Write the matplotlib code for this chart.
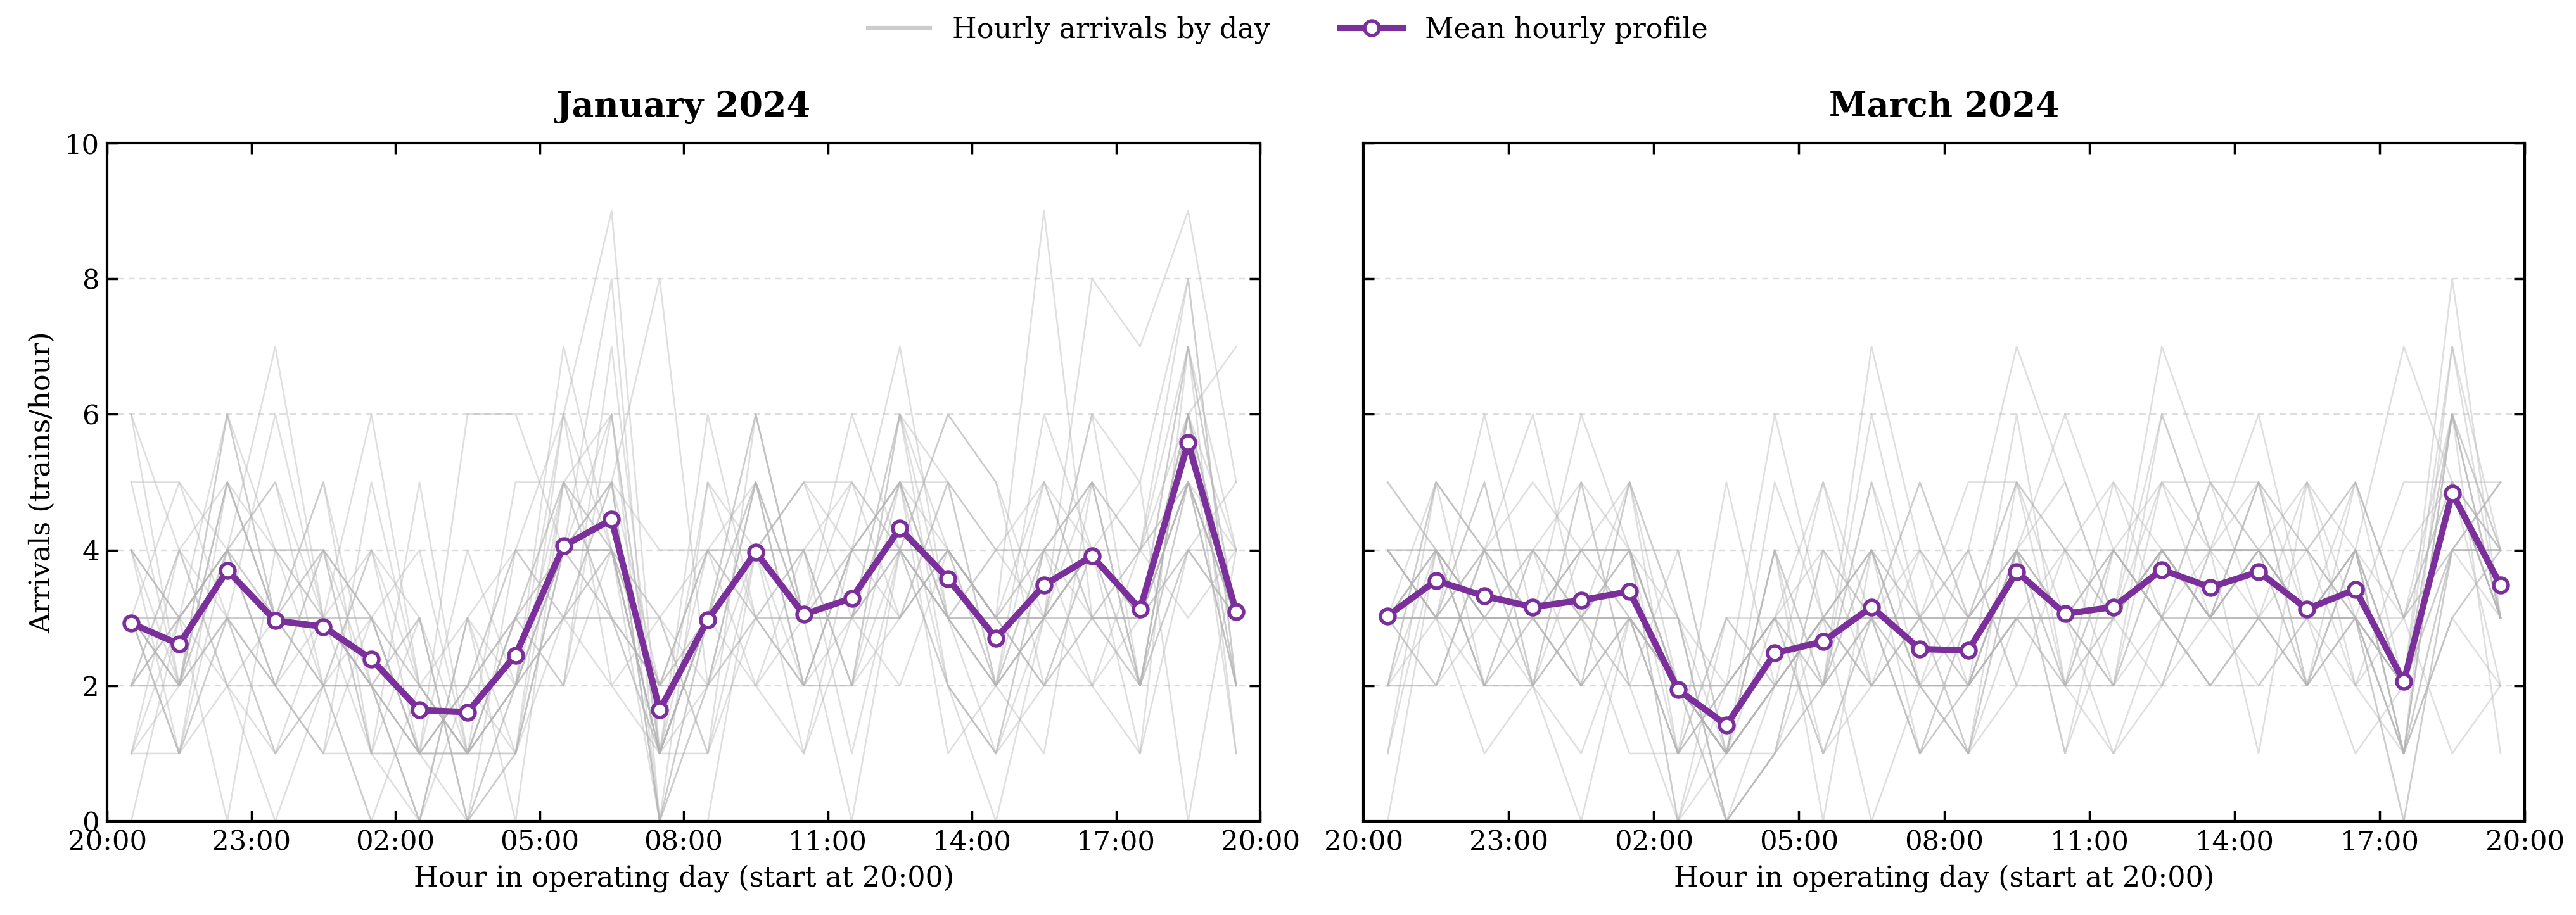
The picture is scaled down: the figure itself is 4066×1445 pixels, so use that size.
import matplotlib
matplotlib.use("Agg")
import matplotlib.pyplot as plt
from matplotlib.lines import Line2D
import numpy as np

plt.rcParams['font.family'] = ['DejaVu Serif']

# ---------------- data ----------------
hour_labels = ["20:00", "23:00", "02:00", "05:00", "08:00", "11:00", "14:00", "17:00", "20:00"]
panel_titles = ["January 2024", "March 2024"]

jan_mean = [2.92, 2.61, 3.70, 2.96, 2.87, 2.39, 1.64, 1.61, 2.45, 4.06, 4.45, 1.64,
            2.97, 3.97, 3.05, 3.29, 4.32, 3.58, 2.70, 3.48, 3.91, 3.13, 5.58, 3.09]
mar_mean = [3.03, 3.55, 3.32, 3.16, 3.26, 3.39, 1.94, 1.42, 2.48, 2.65, 3.16, 2.54,
            2.52, 3.68, 3.06, 3.16, 3.71, 3.45, 3.68, 3.13, 3.42, 2.06, 4.84, 3.48]

# daily hourly arrivals, one list per hour (31 days each)
jan_by_hour = [
    [3,2,4,6,1,3,2,5,3,0,4,2,3,3,1,4,2,3,5,2,3,4,1,3,2,6,3,2,4,3,1],
    [2,3,1,4,2,5,3,2,1,3,2,4,3,2,1,3,2,3,5,2,1,3,4,2,3,2,1,4,3,2,3],
    [4,6,3,2,5,4,3,6,4,2,5,3,4,4,3,0,5,4,3,6,2,4,5,3,4,3,5,2,4,3,4],
    [2,4,3,1,3,7,2,3,4,0,3,2,5,3,1,4,3,2,6,3,2,4,3,1,3,2,4,3,2,3,5],
    [3,2,4,2,5,3,1,3,4,2,3,2,3,5,2,4,3,1,3,2,4,3,2,3,4,1,3,2,4,3,2],
    [2,3,1,4,2,6,1,3,2,0,3,2,4,1,2,3,2,5,1,2,3,2,4,2,1,3,2,0,3,2,2],
    [1,2,0,3,1,2,5,1,0,2,1,3,2,1,0,4,1,2,1,3,2,0,1,2,3,1,2,0,1,2,1],
    [2,1,3,0,1,2,1,6,0,2,1,1,3,0,2,1,4,1,2,0,1,3,2,1,0,2,1,3,1,2,1],
    [3,2,1,4,2,3,1,6,2,3,1,2,4,2,1,3,2,5,2,1,3,2,4,3,1,2,3,0,2,4,2],
    [5,4,3,6,4,2,5,4,7,3,4,5,3,4,6,2,4,5,3,4,4,6,3,5,4,2,4,5,3,4,3],
    [4,5,3,9,4,6,3,5,4,2,8,4,5,3,4,7,4,3,5,4,6,2,4,5,3,4,5,6,3,4,4],
    [1,0,2,1,3,0,1,8,2,1,0,1,2,3,0,1,2,1,0,2,1,3,1,0,2,1,4,1,2,1,3],
    [3,2,4,3,1,5,3,2,4,3,2,6,3,1,3,4,2,3,0,4,3,2,5,3,2,3,4,1,3,2,4],
    [4,5,3,6,4,3,5,4,2,4,5,3,4,6,4,3,5,2,4,4,5,3,4,6,3,4,5,3,4,2,4],
    [3,2,4,3,5,2,3,1,4,3,2,3,4,3,5,2,3,1,3,4,2,3,4,3,2,5,3,4,2,3,3],
    [3,4,2,5,3,4,6,3,2,4,3,0,4,3,5,2,3,4,3,2,4,3,5,3,2,4,3,1,4,3,4],
    [4,5,6,3,4,7,4,5,3,4,6,4,5,2,4,5,3,4,6,4,5,3,4,4,6,3,5,4,4,3,5],
    [3,4,2,5,4,3,6,3,4,2,4,3,5,4,3,1,4,3,5,4,2,4,3,6,3,4,3,2,4,5,3],
    [2,3,1,4,2,3,5,2,3,0,3,2,4,3,1,2,3,4,2,3,1,3,2,5,3,2,4,1,3,2,3],
    [3,4,2,5,3,9,3,4,2,3,5,3,4,2,3,6,3,4,1,3,4,3,5,2,4,3,3,4,2,4,3],
    [4,5,3,4,8,3,4,5,2,4,3,6,4,3,5,4,2,4,5,3,4,6,3,4,5,3,4,2,4,3,4],
    [3,2,4,3,7,2,3,4,1,3,2,5,3,4,2,3,3,1,4,3,5,2,3,4,2,3,3,4,2,3,2],
    [6,5,7,4,9,5,6,3,7,5,6,8,4,5,6,7,5,4,6,5,0,6,7,5,4,6,5,8,6,5,4],
    [3,2,4,3,5,2,3,4,1,3,7,2,3,4,2,3,3,5,2,3,4,1,3,2,4,3,3,2,4,3,3],
]

mar_by_hour = [
    [3,4,2,3,5,2,3,4,1,3,4,2,3,3,5,2,4,3,1,3,4,2,3,4,0,3,4,2,3,4,3],
    [4,3,5,3,4,2,4,3,5,4,3,2,4,3,4,5,3,2,4,3,4,3,5,3,4,2,3,4,3,4,3],
    [3,4,2,6,3,4,2,3,4,3,1,4,3,5,2,4,3,3,4,2,3,5,4,3,2,4,3,3,4,2,4],
    [3,2,4,3,3,6,2,3,4,3,2,3,4,2,3,5,3,2,4,3,3,2,4,3,2,3,4,3,2,4,3],
    [4,3,2,4,6,3,1,4,3,2,4,3,5,3,2,4,3,0,4,3,2,5,3,4,3,2,4,3,5,3,3],
    [4,3,5,3,4,2,3,4,3,5,4,3,2,4,3,4,1,3,4,5,3,2,4,3,4,3,5,3,4,2,3],
    [2,1,3,2,0,2,1,4,2,3,1,2,2,0,3,2,1,2,3,2,1,4,2,1,2,3,1,2,2,0,2],
    [1,2,0,1,3,1,2,1,0,2,5,1,1,2,0,1,3,2,1,0,2,1,1,3,2,0,1,2,1,1,2],
    [2,3,1,4,2,3,6,2,1,3,2,4,2,3,1,2,3,2,4,1,3,2,5,2,3,2,1,3,2,4,2],
    [3,2,4,2,3,1,3,5,2,3,2,0,3,4,2,3,2,3,1,4,3,2,3,2,5,2,3,1,3,2,3],
    [3,4,2,7,3,2,4,3,6,2,3,4,0,3,5,3,2,4,3,3,2,4,3,5,2,3,4,3,2,3,4],
    [2,3,2,4,1,3,2,5,3,2,3,1,2,4,3,2,3,2,1,3,4,2,3,2,3,5,2,3,2,1,3],
    [3,2,1,3,2,4,2,3,1,2,5,3,2,3,2,1,3,4,2,3,2,1,3,2,4,3,2,3,2,3,1],
    [4,3,5,3,4,7,3,4,2,4,5,3,4,3,6,4,3,2,4,5,3,4,3,4,2,5,3,4,3,4,3],
    [3,2,4,3,2,5,3,1,4,3,2,3,6,3,2,4,3,2,3,4,3,2,3,5,2,3,4,1,3,3,2],
    [3,4,2,3,4,3,1,4,3,2,5,3,4,2,3,3,4,2,3,5,3,2,4,3,1,3,4,3,2,4,3],
    [4,3,4,7,3,4,2,5,4,3,4,6,3,4,2,4,3,5,4,3,4,2,4,5,3,4,3,4,6,3,4],
    [3,4,3,5,2,4,3,4,3,5,3,4,2,3,4,3,5,3,4,2,3,4,3,5,3,4,2,3,4,3,4],
    [4,3,5,4,2,4,3,6,4,3,5,4,3,4,1,4,5,3,4,3,4,5,2,4,3,4,3,5,4,3,4],
    [3,2,4,3,3,5,2,3,4,3,2,3,4,3,5,2,3,3,4,2,3,4,3,2,5,3,3,2,4,3,3],
    [4,3,5,3,4,2,4,3,5,3,4,1,3,4,3,5,3,4,2,3,4,3,5,3,4,3,2,4,3,4,3],
    [2,1,3,2,7,1,2,0,3,2,1,2,3,1,5,2,1,2,3,0,2,1,3,2,1,2,4,1,2,3,1],
    [5,6,4,8,5,3,6,4,5,7,4,5,6,3,5,4,6,5,1,4,5,7,4,5,6,4,5,3,6,5,4],
    [4,3,5,3,4,2,3,4,5,3,4,3,1,4,3,5,4,3,2,4,3,4,5,3,4,3,2,4,3,4,4],
]

# ---------------- styling ----------------
PURPLE = "#7B2F9B"
GRAY = "#b3b3b3"

fig = plt.figure(figsize=(16.264, 5.78), dpi=250)
ax1 = fig.add_axes([0.0416, 0.1024, 0.4476, 0.7412])
ax2 = fig.add_axes([0.5293, 0.1024, 0.4508, 0.7412], sharey=ax1)

x = np.arange(24) + 0.5

for ax, title, by_hour, mean in [(ax1, panel_titles[0], jan_by_hour, jan_mean),
                                 (ax2, panel_titles[1], mar_by_hour, mar_mean)]:
    daily = np.array(by_hour).T
    for row in daily:
        ax.plot(x, row, color=GRAY, lw=0.75, alpha=0.42, zorder=2)
    ax.plot(x, mean, color=PURPLE, lw=2.9, marker='o', ms=6.6,
            markerfacecolor='white', markeredgecolor=PURPLE, markeredgewidth=1.6, zorder=5)
    ax.set_xlim(0, 24)
    ax.set_ylim(0, 10)
    ax.set_xticks(np.arange(0, 25, 3))
    ax.set_xticklabels(hour_labels)
    ax.set_yticks([0, 2, 4, 6, 8, 10])
    ax.yaxis.grid(True, linestyle=(0, (4, 3)), color='#dddddd', lw=0.7, zorder=0)
    ax.set_axisbelow(True)
    ax.tick_params(direction='in', top=True, right=True, length=5, width=1.0, labelsize=12.5)
    for s in ax.spines.values():
        s.set_linewidth(1.2)
    ax.set_title(title, fontsize=15.5, fontweight='bold', pad=12)
    ax.set_xlabel("Hour in operating day (start at 20:00)", fontsize=12.8)

ax1.set_ylabel("Arrivals (trains/hour)", fontsize=12.8)
ax2.tick_params(labelleft=False)

handles = [Line2D([], [], color='#cccccc', lw=1.8),
           Line2D([], [], color=PURPLE, lw=2.9, marker='o', ms=6.6,
                  markerfacecolor='white', markeredgecolor=PURPLE, markeredgewidth=1.6)]
fig.legend(handles, ["Hourly arrivals by day", "Mean hourly profile"],
           loc='upper center', bbox_to_anchor=(0.5, 1.01), ncol=2, frameon=False,
           fontsize=12.8, columnspacing=2.5, handlelength=2.2)

fig.savefig("out.png", dpi=250)
